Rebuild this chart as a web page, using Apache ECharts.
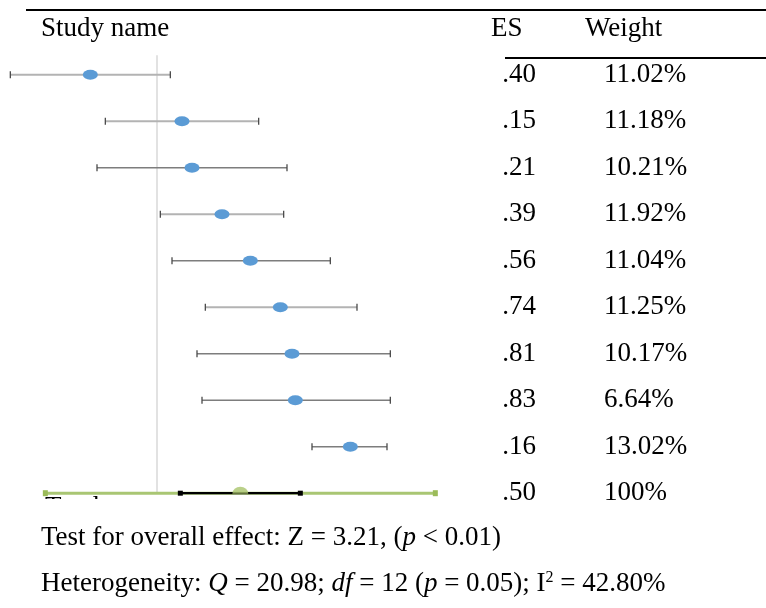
<!DOCTYPE html>
<html>
<head>
<meta charset="utf-8">
<script src="https://cdn.jsdelivr.net/npm/echarts@6/dist/echarts.min.js"></script>
<style>
  html, body { margin: 0; padding: 0; background: #ffffff; }
  #main { width: 766px; height: 608px; }
</style>
</head>
<body>
<div id="main"></div>
<script>
// Study-level effect sizes with 95% confidence limits
const effectSizes = [-0.40, 0.15, 0.21, 0.39, 0.56, 0.74, 0.81, 0.83, 1.16];
const lowerCI     = [-0.88, -0.31, -0.36, 0.02, 0.09, 0.29, 0.24, 0.27, 0.93];
const upperCI     = [0.08, 0.61, 0.78, 0.76, 1.04, 1.20, 1.40, 1.40, 1.38];
const weights     = [11.02, 11.18, 10.21, 11.92, 11.04, 11.25, 10.17, 6.64, 13.02];

// Pooled estimate, its confidence interval and prediction interval
const pooledES = 0.50;
const pooledCI = [0.14, 0.86];
const pooledPI = [-0.67, 1.67];
const pooledWeight = 100;

// Overall test and heterogeneity statistics
const zValue = 3.21;
const qValue = 20.98;
const dfValue = 12;
const hetP = 0.05;
const iSquared = 42.80;

const FONT = '"Liberation Serif", "Times New Roman", serif';
const FS = 27;
const pooledRow = effectSizes.length;

function fmtES(v) {
  let s = Math.abs(v).toFixed(2);
  if (s.startsWith('0')) s = s.slice(1);
  return (v < 0 ? '-' : '') + s;
}

const chart = echarts.init(document.getElementById('main'), null, { renderer: 'canvas' });

const ciData = lowerCI.map((lo, i) => [lo, upperCI[i], i]);
const pointData = effectSizes.map((v, i) => [v, i]);
const tableData = effectSizes.map((v, i) => [v, i, weights[i].toFixed(2) + '%'])
  .concat([[pooledES, pooledRow, pooledWeight + '%']]);

const textStyleBase = { fill: '#000000', font: FS + 'px ' + FONT };

const option = {
  animation: false,
  backgroundColor: '#ffffff',
  grid: { left: 7, top: 51.45, width: 483.33, height: 465, containLabel: false },
  xAxis: { type: 'value', min: -0.9, max: 2.0, show: false },
  yAxis: { type: 'value', min: -0.5, max: 9.5, inverse: true, show: false },
  series: [
    {
      // line of no effect
      type: 'custom',
      z: 1,
      data: [[0, -0.42, 9]],
      encode: { x: 0, y: [1, 2] },
      renderItem: function (params, api) {
        const a = api.coord([api.value(0), api.value(1)]);
        const b = api.coord([api.value(0), api.value(2)]);
        return {
          type: 'line',
          shape: { x1: a[0], y1: a[1], x2: b[0], y2: b[1] },
          style: { stroke: '#cfcfcf', lineWidth: 1.2 }
        };
      }
    },
    {
      // study confidence intervals
      type: 'custom',
      z: 2,
      data: ciData,
      encode: { x: [0, 1], y: 2 },
      renderItem: function (params, api) {
        const row = api.value(2);
        const a = api.coord([api.value(0), row]);
        const b = api.coord([api.value(1), row]);
        const cap = 3.5;
        const dark = row === 2 || row === 4 || row === 6 || row === 7 || row === 8;
        const stroke = dark ? '#7d7d7d' : '#b3b3b3';
        return {
          type: 'group',
          children: [
            { type: 'line', shape: { x1: a[0], y1: a[1], x2: b[0], y2: b[1] },
              style: { stroke: stroke, lineWidth: dark ? 1.4 : 1.9 } },
            { type: 'line', shape: { x1: a[0], y1: a[1] - cap, x2: a[0], y2: a[1] + cap },
              style: { stroke: '#4a4a4a', lineWidth: 1.3 } },
            { type: 'line', shape: { x1: b[0], y1: b[1] - cap, x2: b[0], y2: b[1] + cap },
              style: { stroke: '#4a4a4a', lineWidth: 1.3 } }
          ]
        };
      }
    },
    {
      // study point estimates
      type: 'scatter',
      z: 3,
      data: pointData,
      symbol: 'circle',
      symbolSize: [15, 10],
      itemStyle: { color: '#5b9bd5', opacity: 1 },
      silent: true
    },
    {
      // pooled row: prediction interval (green) and confidence interval (black)
      type: 'custom',
      z: 2,
      data: [[pooledPI[0], pooledPI[1], pooledCI[0], pooledCI[1], pooledRow]],
      encode: { x: [0, 1, 2, 3], y: 4 },
      renderItem: function (params, api) {
        const row = api.value(4);
        const p0 = api.coord([api.value(0), row]);
        const p1 = api.coord([api.value(1), row]);
        const c0 = api.coord([api.value(2), row]);
        const c1 = api.coord([api.value(3), row]);
        const green = '#a9c673';
        return {
          type: 'group',
          children: [
            { type: 'line', shape: { x1: p0[0], y1: p0[1], x2: p1[0], y2: p1[1] },
              style: { stroke: green, lineWidth: 3 } },
            { type: 'rect', shape: { x: p0[0] - 2.5, y: p0[1] - 3, width: 5, height: 6 },
              style: { fill: '#9bbb59' } },
            { type: 'rect', shape: { x: p1[0] - 2.5, y: p1[1] - 3, width: 5, height: 6 },
              style: { fill: '#9bbb59' } },
            { type: 'line', shape: { x1: c0[0], y1: c0[1], x2: c1[0], y2: c1[1] },
              style: { stroke: '#000000', lineWidth: 2.2 } },
            { type: 'rect', shape: { x: c0[0] - 2.5, y: c0[1] - 2.5, width: 5, height: 5 },
              style: { fill: '#000000' } },
            { type: 'rect', shape: { x: c1[0] - 2.5, y: c1[1] - 2.5, width: 5, height: 5 },
              style: { fill: '#000000' } }
          ]
        };
      }
    },
    {
      // pooled point estimate
      type: 'scatter',
      z: 4,
      data: [[pooledES, pooledRow]],
      symbol: 'path://M0 10A10 10 0 0 1 20 10Z',
      symbolSize: [16, 7],
      symbolOffset: [0, -3],
      itemStyle: { color: '#a9c46c' },
      silent: true
    },
    {
      // ES and Weight columns
      type: 'custom',
      z: 2,
      clip: false,
      data: tableData,
      encode: { y: 1 },
      renderItem: function (params, api) {
        const y = api.coord([0, api.value(1)])[1];
        const es = fmtES(api.value(0));
        const w = tableData[params.dataIndex][2];
        return {
          type: 'group',
          children: [
            { type: 'text', x: 536, y: y,
              style: Object.assign({}, textStyleBase, { text: es, align: 'right', verticalAlign: 'middle', textAlign: 'right', textVerticalAlign: 'middle' }) },
            { type: 'text', x: 604, y: y,
              style: Object.assign({}, textStyleBase, { text: w, align: 'left', verticalAlign: 'middle', textAlign: 'left', textVerticalAlign: 'middle' }) }
          ]
        };
      }
    }
  ],
  graphic: {
    elements: [
      { type: 'line', z: 10, shape: { x1: 26, y1: 10, x2: 766, y2: 10 },
        style: { stroke: '#000000', lineWidth: 2 } },
      { type: 'line', z: 10, shape: { x1: 505, y1: 58, x2: 766, y2: 58 },
        style: { stroke: '#000000', lineWidth: 2 } },
      { type: 'text', z: 10, x: 41, y: 28.5,
        style: { text: 'Study name', fill: '#000', font: FS + 'px ' + FONT, textVerticalAlign: 'middle', verticalAlign: 'middle' } },
      { type: 'text', z: 10, x: 491, y: 28.5,
        style: { text: 'ES', fill: '#000', font: FS + 'px ' + FONT, textVerticalAlign: 'middle', verticalAlign: 'middle' } },
      { type: 'text', z: 10, x: 585, y: 28.5,
        style: { text: 'Weight', fill: '#000', font: FS + 'px ' + FONT, textVerticalAlign: 'middle', verticalAlign: 'middle' } },
      // pooled row label, mostly hidden beneath the plot area
      { type: 'text', z: 10, x: 45, y: 507.5,
        style: { text: 'Total', fill: '#000', font: FS + 'px ' + FONT, textVerticalAlign: 'middle', verticalAlign: 'middle' } },
      { type: 'rect', z: 50, shape: { x: 30, y: 499, width: 100, height: 20 },
        style: { fill: '#ffffff' } },
      // plot area edge masking the ES column
      { type: 'rect', z: 50, shape: { x: 440, y: 62, width: 63.5, height: 450 },
        style: { fill: '#ffffff' } },
      { type: 'text', z: 10, x: 41, y: 537.5,
        style: {
          text: '{n|Test for overall effect: Z = ' + zValue.toFixed(2) + ', (}{i|p}{n| < 0.01)}',
          textVerticalAlign: 'middle', verticalAlign: 'middle',
          rich: {
            n: { fontFamily: FONT, fontSize: FS, fill: '#000', color: '#000' },
            i: { fontFamily: FONT, fontSize: FS, fontStyle: 'italic', fill: '#000', color: '#000' }
          }
        } },
      { type: 'text', z: 10, x: 41, y: 583.5,
        style: {
          text: '{n|Heterogeneity: }{i|Q}{n| = ' + qValue.toFixed(2) + '; }{i|df}{n| = ' + dfValue +
                ' (}{i|p}{n| = ' + hetP.toFixed(2) + '); I}{s|2}{n| = ' + iSquared.toFixed(2) + '%}',
          textVerticalAlign: 'middle', verticalAlign: 'middle',
          rich: {
            n: { fontFamily: FONT, fontSize: FS, fill: '#000', color: '#000' },
            i: { fontFamily: FONT, fontSize: FS, fontStyle: 'italic', fill: '#000', color: '#000' },
            s: { fontFamily: FONT, fontSize: 16, fill: '#000', color: '#000', verticalAlign: 'top' }
          }
        } }
    ]
  }
};

chart.setOption(option);
</script>
</body>
</html>
